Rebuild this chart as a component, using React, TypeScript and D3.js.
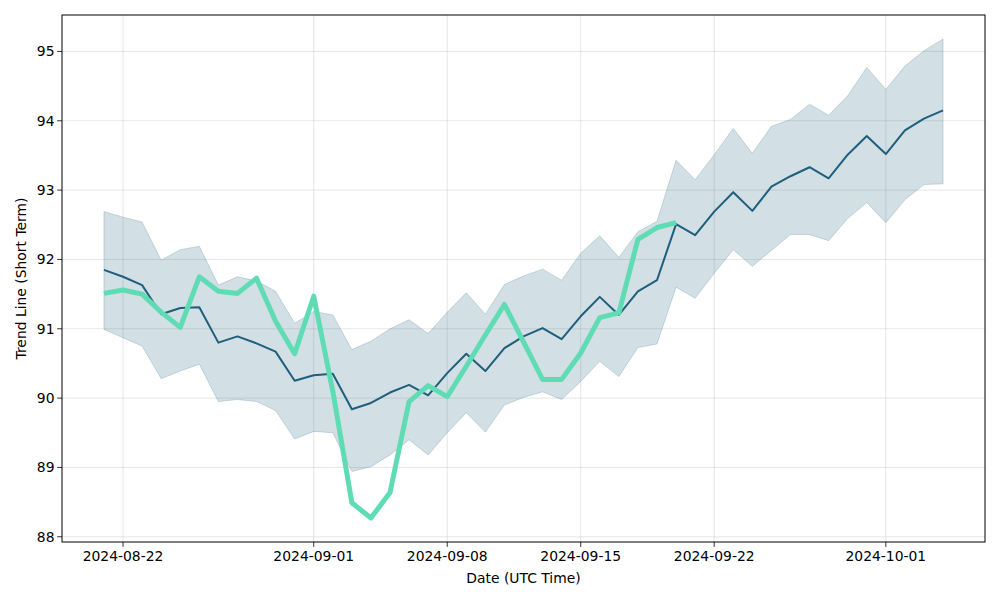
import * as d3 from 'd3';

// daily points, 2024-08-21 .. 2024-10-04
const startDate = '2024-08-21';

const trend = [
  91.85, 91.75, 91.63, 91.21, 91.3, 91.31, 90.8, 90.89, 90.79, 90.67,
  90.25, 90.33, 90.35, 89.84, 89.93, 90.08, 90.19, 90.04, 90.36, 90.64,
  90.39, 90.72, 90.89, 91.01, 90.85, 91.18, 91.46, 91.2, 91.54, 91.7,
  92.51, 92.35, 92.69, 92.97, 92.7, 93.05, 93.2, 93.33, 93.17, 93.51,
  93.78, 93.52, 93.86, 94.03, 94.15,
];

const upper = [
  92.69, 92.61, 92.54, 91.99, 92.14, 92.19, 91.63, 91.75, 91.69, 91.54,
  91.08, 91.25, 91.2, 90.7, 90.82, 91.0, 91.13, 90.93, 91.24, 91.52,
  91.21, 91.64, 91.76, 91.86, 91.7, 92.09, 92.34, 92.03, 92.4, 92.55,
  93.43, 93.15, 93.51, 93.89, 93.53, 93.92, 94.02, 94.24, 94.08, 94.36,
  94.77, 94.45, 94.79, 95.01, 95.18,
];

const lower = [
  90.99, 90.87, 90.75, 90.28, 90.39, 90.49, 89.95, 89.98, 89.95, 89.82,
  89.41, 89.52, 89.5, 88.94, 89.01, 89.18, 89.4, 89.18, 89.5, 89.79,
  89.51, 89.9, 90.01, 90.09, 89.98, 90.24, 90.53, 90.31, 90.73, 90.78,
  91.6, 91.44, 91.8, 92.14, 91.9, 92.13, 92.36, 92.36, 92.27, 92.59,
  92.82, 92.53, 92.86, 93.08, 93.09,
];

const actual = [
  91.51, 91.56, 91.5, 91.24, 91.02, 91.75, 91.54, 91.51, 91.73, 91.11,
  90.64, 91.47, 90.1, 88.49, 88.27, 88.64, 89.95, 90.18, 90.02, 90.46,
  90.91, 91.35, 90.81, 90.27, 90.27, 90.65, 91.16, 91.23, 92.29, 92.46,
  92.53,
];

const xTickLabels = ['2024-08-22', '2024-09-01', '2024-09-08', '2024-09-15', '2024-09-22', '2024-10-01'];
const yTickValues = [88, 89, 90, 91, 92, 93, 94, 95];

const W = 1000;
const H = 600;
const M = { left: 62, right: 15, top: 15, bottom: 58 };
const FONT = 'DejaVu Sans, sans-serif';
const FS = 13.9;

const DARK = '#1f5e7c';
const GREEN = '#60dcb5';

export default function App() {
  const t0 = d3.utcParse('%Y-%m-%d')(startDate) as Date;
  const day = (i: number) => d3.utcDay.offset(t0, i);
  const dates = trend.map((_, i) => day(i));

  const x0 = dates[0].getTime();
  const x1 = dates[dates.length - 1].getTime();
  const xPad = (x1 - x0) * 0.05;
  const x = d3
    .scaleUtc()
    .domain([new Date(x0 - xPad), new Date(x1 + xPad)])
    .range([M.left, W - M.right]);

  const all = [...upper, ...lower, ...actual, ...trend];
  const yMin = d3.min(all) as number;
  const yMax = d3.max(all) as number;
  const yPad = (yMax - yMin) * 0.05;
  const y = d3
    .scaleLinear()
    .domain([yMin - yPad, yMax + yPad])
    .range([H - M.bottom, M.top]);

  const area = d3
    .area<number>()
    .x((_, i) => x(dates[i]))
    .y0((_, i) => y(lower[i]))
    .y1((d) => y(d));

  const line = d3
    .line<number>()
    .x((_, i) => x(dates[i]))
    .y((d) => y(d));

  const parse = d3.utcParse('%Y-%m-%d');
  const xTicks = xTickLabels.map((s) => ({ s, d: parse(s) as Date }));

  const left = M.left;
  const right = W - M.right;
  const top = M.top;
  const bottom = H - M.bottom;

  return (
    <svg width={W} height={H} style={{ position: 'absolute', left: 0, top: 0, background: '#fff' }}>
      <rect x={0} y={0} width={W} height={H} fill="#fff" />
      {/* grid */}
      <g stroke="#b0b0b0" strokeOpacity={0.4} strokeWidth={0.8}>
        {xTicks.map((t) => (
          <line key={t.s} x1={x(t.d)} x2={x(t.d)} y1={top} y2={bottom} />
        ))}
        {yTickValues.map((v) => (
          <line key={v} x1={left} x2={right} y1={y(v)} y2={y(v)} />
        ))}
      </g>

      <path d={area(upper) ?? ''} fill={DARK} fillOpacity={0.2} stroke={DARK} strokeOpacity={0.2} strokeWidth={1} />
      <path d={line(trend) ?? ''} fill="none" stroke={DARK} strokeWidth={2} strokeLinejoin="round" />
      <path d={line(actual) ?? ''} fill="none" stroke={GREEN} strokeWidth={5} strokeLinejoin="round" />

      <rect x={left} y={top} width={right - left} height={bottom - top} fill="none" stroke="#000" strokeWidth={1} />

      {/* axes */}
      <g fontFamily={FONT} fontSize={FS} fill="#000">
        {xTicks.map((t) => (
          <g key={t.s} transform={`translate(${x(t.d)},${bottom})`}>
            <line y1={0} y2={4.9} stroke="#000" strokeWidth={0.8} />
            <text y={19} textAnchor="middle">
              {t.s}
            </text>
          </g>
        ))}
        {yTickValues.map((v) => (
          <g key={v} transform={`translate(${left},${y(v)})`}>
            <line x1={0} x2={-4.9} stroke="#000" strokeWidth={0.8} />
            <text x={-7.5} dy="0.36em" textAnchor="end">
              {v}
            </text>
          </g>
        ))}
        <text x={(left + right) / 2} y={583} textAnchor="middle">
          Date (UTC Time)
        </text>
        <text transform={`translate(26,${(top + bottom) / 2}) rotate(-90)`} textAnchor="middle">
          Trend Line (Short Term)
        </text>
      </g>
    </svg>
  );
}
